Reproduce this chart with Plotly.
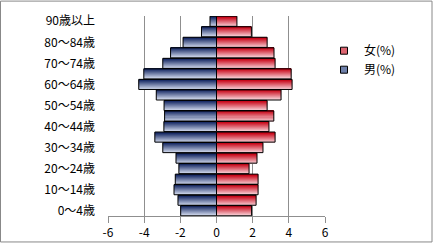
import plotly.graph_objects as go

# ---- data ----
categories = ["0～4歳", "5～9歳", "10～14歳", "15～19歳", "20～24歳", "25～29歳",
              "30～34歳", "35～39歳", "40～44歳", "45～49歳", "50～54歳", "55～59歳",
              "60～64歳", "65～69歳", "70～74歳", "75～79歳", "80～84歳", "85～89歳",
              "90歳以上"]
male = [-1.98, -2.13, -2.35, -2.28, -2.08, -2.24, -2.97, -3.41, -2.91, -2.87,
        -2.90, -3.33, -4.30, -4.02, -2.97, -2.54, -1.85, -0.83, -0.36]
female = [1.94, 2.19, 2.30, 2.30, 1.80, 2.24, 2.57, 3.24, 2.90, 3.17,
          2.80, 3.57, 4.18, 4.13, 3.24, 3.18, 2.80, 1.93, 1.13]
female_name = "女(%)"
male_name = "男(%)"
x_tick_vals = [-6, -4, -2, 0, 2, 4, 6]
x_tick_text = ["-6", "-4", "-2", "0", "2", "4", "6"]
y_tick_cats = categories[::2]

FONT = "Noto Sans CJK JP"
W, H = 433, 252
ML, MR, MT, MB = 108, 108, 16, 28
PW, PH = W - ML - MR, H - MT - MB

BLUE_TOP, BLUE_BOT = (28, 46, 104), (214, 222, 240)
RED_TOP, RED_BOT = (200, 10, 28), (250, 214, 220)
BLUE_MID, RED_MID = "rgb(110,128,170)", "rgb(220,100,112)"


def mix(a, b, t):
    return "rgb(%d,%d,%d)" % tuple(round(a[i] + (b[i] - a[i]) * t) for i in range(3))


def px_x(p):
    return (p - ML) / PW


def px_y(p):
    return (H - MB - p) / PH


fig = go.Figure()
NS = 10
BW = 0.96
sw = BW / NS
for vals, top, bot in ((male, BLUE_TOP, BLUE_BOT), (female, RED_TOP, RED_BOT)):
    for k in range(NS):
        t = 1 - k / (NS - 1)
        fig.add_trace(go.Bar(
            x=vals, y=categories, orientation="h",
            width=sw + 0.002, offset=-BW / 2 + k * sw,
            marker=dict(color=mix(top, bot, t), line=dict(width=0)),
            showlegend=False, hoverinfo="skip"))
    fig.add_trace(go.Bar(
        x=vals, y=categories, orientation="h",
        width=BW, offset=-BW / 2,
        marker=dict(color="rgba(0,0,0,0)", line=dict(color="black", width=1)),
        showlegend=False, hoverinfo="x+y"))

for name, col in ((female_name, RED_MID), (male_name, BLUE_MID)):
    fig.add_trace(go.Scatter(
        x=[None], y=[None], mode="markers", name=name,
        marker=dict(symbol="square", size=7, color=col,
                    line=dict(color="black", width=1))))

fig.update_layout(
    width=W, height=H,
    margin=dict(l=ML, r=MR, t=MT, b=MB),
    paper_bgcolor="white", plot_bgcolor="white",
    barmode="overlay",
    font=dict(family=FONT, size=12, color="black"),
    legend=dict(x=px_x(324), y=px_y(37), xanchor="left", yanchor="top",
                font=dict(family=FONT, size=12), tracegroupgap=0,
                bgcolor="rgba(0,0,0,0)"),
    xaxis=dict(range=[-6, 6], tickvals=x_tick_vals, ticktext=x_tick_text,
               showgrid=True, gridcolor="#8f8f8f", gridwidth=1,
               zeroline=True, zerolinecolor="#8f8f8f", zerolinewidth=1,
               showline=True, linecolor="#8f8f8f", linewidth=1,
               ticks="outside", ticklen=6, tickcolor="#8f8f8f",
               tickfont=dict(size=12), fixedrange=True),
    yaxis=dict(type="category", categoryorder="array", categoryarray=categories,
               range=[-0.5, len(categories) - 0.5],
               tickvals=y_tick_cats, ticktext=y_tick_cats,
               showgrid=False, zeroline=False, showline=False, ticks="",
               ticklabelstandoff=12, tickfont=dict(size=12), fixedrange=True),
    shapes=[dict(type="rect", xref="paper", yref="paper",
                 x0=px_x(0.5), x1=px_x(432), y0=px_y(251), y1=px_y(0.5),
                 line=dict(color="#888888", width=1), fillcolor="rgba(0,0,0,0)",
                 layer="above")],
)

fig.write_html("out.html")
